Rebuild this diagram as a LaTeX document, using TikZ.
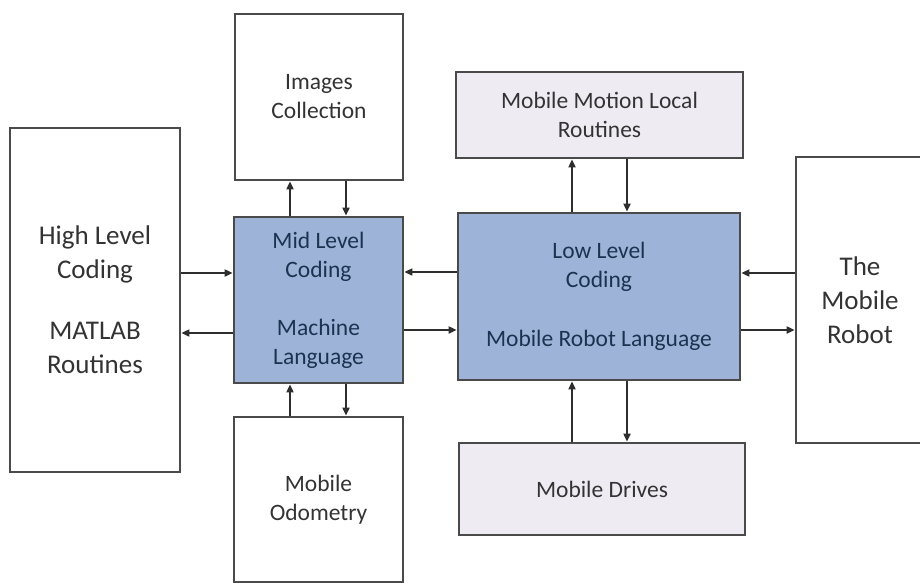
\documentclass[tikz,border=0pt]{standalone}
\usepackage{fontspec}
\setmainfont{Carlito}
\usetikzlibrary{arrows.meta}
\definecolor{edgegray}{HTML}{4A4A4A}
\definecolor{linegray}{HTML}{2E2E2E}
\definecolor{steelfill}{HTML}{9DB4D8}
\definecolor{lavfill}{HTML}{EEEBF3}
\definecolor{plaintext}{HTML}{333333}
\definecolor{navytext}{HTML}{1C3250}
\tikzset{
  block/.style={draw=edgegray, line width=2.8pt, fill=white, rectangle,
    align=center, inner sep=0pt, text=plaintext},
  bluebox/.style={block, fill=steelfill, text=navytext},
  lavbox/.style={block, fill=lavfill},
  bigtext/.style={font=\fontsize{27}{34}\selectfont},
  smalltext/.style={font=\fontsize{23.5}{29}\selectfont},
  arr/.style={draw=linegray, line width=1.9pt,
    -{Triangle[length=8pt,width=7pt]}}
}
\begin{document}
\begin{tikzpicture}[x=1pt,y=-1pt]
\clip (0,0) rectangle (920,584);
\fill[white] (0,0) rectangle (920,584);

% outer blocks
\node[block, bigtext, minimum width=170pt, minimum height=344pt] (high) at (95,300)
  {High Level\\Coding\\[27pt]MATLAB\\Routines};
\node[block, bigtext, minimum width=128pt, minimum height=286pt] (robot) at (860,300)
  {The\\Mobile\\Robot};

% mid level column
\node[block, smalltext, minimum width=168pt, minimum height=166pt] (img) at (319,97)
  {Images\\Collection};
\node[bluebox, smalltext, minimum width=169pt, minimum height=166pt] (mid) at (318.5,300)
  {Mid Level\\Coding\\[29pt]Machine\\Language};
\node[block, smalltext, minimum width=169pt, minimum height=165pt] (odo) at (318.5,499.5)
  {Mobile\\Odometry};

% low level column
\node[lavbox, smalltext, minimum width=287pt, minimum height=86pt] (motion) at (599.5,115)
  {Mobile Motion Local\\Routines};
\node[bluebox, smalltext, minimum width=282pt, minimum height=167pt] (low) at (599,296.5)
  {Low Level\\Coding\\[30pt]Mobile Robot Language};
\node[lavbox, smalltext, minimum width=286pt, minimum height=92pt] (drives) at (602,489)
  {Mobile Drives};

% horizontal links
\draw[arr] (high.east |- 0,273) -- (mid.west |- 0,273);
\draw[arr] (mid.west |- 0,333) -- (high.east |- 0,333);
\draw[arr] (low.west |- 0,272) -- (mid.east |- 0,272);
\draw[arr] (mid.east |- 0,330) -- (low.west |- 0,330);
\draw[arr] (robot.west |- 0,273) -- (low.east |- 0,273);
\draw[arr] (low.east |- 0,330) -- (robot.west |- 0,330);

% vertical links, mid column
\draw[arr] (mid.north -| 290,0) -- (img.south -| 290,0);
\draw[arr] (img.south -| 346,0) -- (mid.north -| 346,0);
\draw[arr] (odo.north -| 290,0) -- (mid.south -| 290,0);
\draw[arr] (mid.south -| 346,0) -- (odo.north -| 346,0);

% vertical links, low column
\draw[arr] (low.north -| 572,0) -- (motion.south -| 572,0);
\draw[arr] (motion.south -| 627,0) -- (low.north -| 627,0);
\draw[arr] (drives.north -| 572,0) -- (low.south -| 572,0);
\draw[arr] (low.south -| 627,0) -- (drives.north -| 627,0);
\end{tikzpicture}
\end{document}
